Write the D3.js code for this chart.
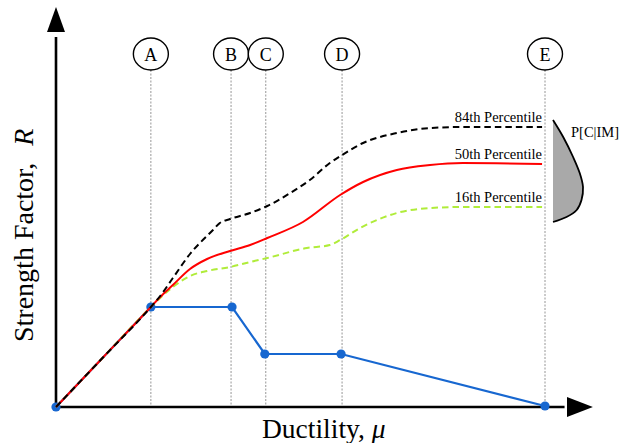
<!DOCTYPE html>
<html>
<head>
<meta charset="utf-8">
<script src="https://cdn.jsdelivr.net/npm/d3@7"></script>
<style>
  html, body { margin: 0; padding: 0; background: #fff; }
  svg { display: block; font-family: "Liberation Serif", "Times New Roman", serif; }
</style>
</head>
<body>
<svg id="chart" width="624" height="443"></svg>
<script>
// Performance-level markers along the ductility axis
const markerNames = ["A", "B", "C", "D", "E"];
const markerMu = [1.94, 3.58, 4.29, 5.85, 10.0];

// Idealised force–deformation backbone (ductility, strength factor)
const backboneMu = [0, 1.94, 3.60, 4.27, 5.83, 10.0];
const backboneR  = [0, 1.00, 1.00, 0.53, 0.53, 0.01];

// Percentile curves of the strength factor (shared elastic branch up to A)
const p84Mu = [0, 0.97, 1.94, 2.13, 2.39, 2.74, 3.21, 3.35, 3.56, 3.97, 4.32, 4.79, 5.19, 5.60, 5.85, 6.28, 6.97, 7.65, 8.32, 9.94];
const p84R  = [0, 0.50, 1.00, 1.11, 1.29, 1.53, 1.77, 1.84, 1.88, 1.94, 2.01, 2.14, 2.27, 2.44, 2.52, 2.64, 2.74, 2.79, 2.80, 2.80];

const p50Mu = [0, 0.97, 1.94, 2.13, 2.39, 2.74, 3.09, 3.56, 3.97, 4.32, 5.05, 5.81, 6.28, 6.97, 7.65, 8.32, 9.94];
const p50R  = [0, 0.50, 1.00, 1.10, 1.22, 1.38, 1.48, 1.56, 1.62, 1.69, 1.85, 2.12, 2.25, 2.37, 2.42, 2.44, 2.43];

const p16Mu = [0, 0.97, 1.94, 2.13, 2.39, 2.74, 3.09, 3.56, 3.97, 4.32, 5.13, 5.60, 5.81, 6.22, 6.97, 7.65, 8.32, 9.94];
const p16R  = [0, 0.50, 1.00, 1.09, 1.20, 1.31, 1.36, 1.40, 1.45, 1.49, 1.59, 1.62, 1.67, 1.79, 1.94, 1.99, 2.00, 2.00];

const percentileLabels = ["84th Percentile", "50th Percentile", "16th Percentile"];

// Conditional distribution P[C|IM] sketched beside the curves
const densR = [2.87, 2.70, 2.50, 2.34, 2.20, 2.07, 1.97, 1.90, 1.85];
const densP = [0.00, 0.34, 0.67, 0.89, 1.00, 0.95, 0.79, 0.45, 0.00];

const svg = d3.select("#chart");

const x = d3.scaleLinear().domain([0, 10]).range([56, 545]);
const y = d3.scaleLinear().domain([0, 4]).range([407, 7]);
const muMax = 11.0;

const zip = (a, b) => a.map((v, i) => [v, b[i]]);

// Marker guide lines and circled letters
const markers = zip(markerMu, markerNames);
svg.append("g").selectAll("line").data(markers).join("line")
  .attr("x1", d => x(d[0])).attr("x2", d => x(d[0]))
  .attr("y1", 70).attr("y2", y(0))
  .attr("stroke", "#8a8a8a").attr("stroke-width", 0.9)
  .attr("stroke-dasharray", "2,1.5");

const mg = svg.append("g").selectAll("g").data(markers).join("g")
  .attr("transform", d => `translate(${x(d[0])},54)`);
mg.append("ellipse").attr("rx", 17.5).attr("ry", 16)
  .attr("fill", "#fff").attr("stroke", "#000").attr("stroke-width", 1.4);
mg.append("text").text(d => d[1])
  .attr("text-anchor", "middle").attr("y", 6.5)
  .attr("font-size", 18).attr("fill", "#000");

// Axes with arrowheads
const axes = svg.append("g");
axes.append("line").attr("x1", x(0)).attr("x2", x(0)).attr("y1", y(0) + 1.3).attr("y2", y(3.7))
  .attr("stroke", "#000").attr("stroke-width", 2.6);
axes.append("path")
  .attr("d", `M${x(0)},${y(4)} L${x(0) - 9},${y(3.75)} L${x(0) + 9},${y(3.75)} Z`)
  .attr("fill", "#000");
axes.append("line").attr("x1", x(0) - 1.3).attr("x2", x(10.4)).attr("y1", y(0)).attr("y2", y(0))
  .attr("stroke", "#000").attr("stroke-width", 2.6);
axes.append("path")
  .attr("d", `M${x(muMax) - 1},${y(0)} L${x(10.45)},${y(0) - 10} L${x(10.45)},${y(0) + 10} Z`)
  .attr("fill", "#000");

// Backbone curve
const backbone = zip(backboneMu, backboneR);
svg.append("path").datum(backbone)
  .attr("d", d3.line().x(d => x(d[0])).y(d => y(d[1])))
  .attr("fill", "none").attr("stroke", "#1767d0").attr("stroke-width", 2.2);
svg.append("g").selectAll("circle").data(backbone).join("circle")
  .attr("cx", d => x(d[0])).attr("cy", d => y(d[1])).attr("r", 4.6)
  .attr("fill", "#1767d0");

// Percentile curves
const smooth = d3.line().x(d => x(d[0])).y(d => y(d[1])).curve(d3.curveMonotoneX);
const series = [
  { pts: zip(p84Mu, p84R), color: "#000000", dash: "6.5,4", label: percentileLabels[0] },
  { pts: zip(p50Mu, p50R), color: "#ff0000", dash: null,  label: percentileLabels[1] },
  { pts: zip(p16Mu, p16R), color: "#b0ec3a", dash: "6.5,4", label: percentileLabels[2] }
];
svg.append("g").selectAll("path").data([...series].reverse()).join("path")
  .attr("d", d => smooth(d.pts))
  .attr("fill", "none")
  .attr("stroke", d => d.color).attr("stroke-width", 2)
  .attr("stroke-dasharray", d => d.dash);

svg.append("g").selectAll("text").data(series).join("text")
  .text(d => d.label)
  .attr("x", d => x(d.pts[d.pts.length - 1][0]))
  .attr("y", d => y(d.pts[d.pts.length - 1][1]) - 5)
  .attr("text-anchor", "end").attr("font-size", 14.5).attr("fill", "#000");

// Distribution of capacity
const baseX = x(markerMu[4]) + 8;
const dW = 30;
const dens = zip(densR, densP);
const densArea = d3.area().y(d => y(d[0])).x0(baseX).x1(d => baseX + d[1] * dW).curve(d3.curveCatmullRom);
const densLine = d3.line().y(d => y(d[0])).x(d => baseX + d[1] * dW).curve(d3.curveCatmullRom);
svg.append("path").datum(dens).attr("d", densArea).attr("fill", "#a9a9a9");
svg.append("path").datum(dens).attr("d", densLine)
  .attr("fill", "none").attr("stroke", "#000").attr("stroke-width", 1.8);
svg.append("text").text("P[C|IM]")
  .attr("x", 571).attr("y", 137).attr("font-size", 14.5).attr("fill", "#000");

// Axis titles
const xt = svg.append("text").attr("x", 262).attr("y", 438)
  .attr("font-size", 27.5).attr("fill", "#000");
xt.append("tspan").text("Ductility, ");
xt.append("tspan").text("μ").attr("font-style", "italic");

const yt = svg.append("text")
  .attr("transform", "translate(33,342) rotate(-90)")
  .attr("font-size", 28).attr("fill", "#000");
yt.append("tspan").text("Strength Factor,");
yt.append("tspan").text("R").attr("font-style", "italic").attr("dx", 17);
</script>
</body>
</html>
